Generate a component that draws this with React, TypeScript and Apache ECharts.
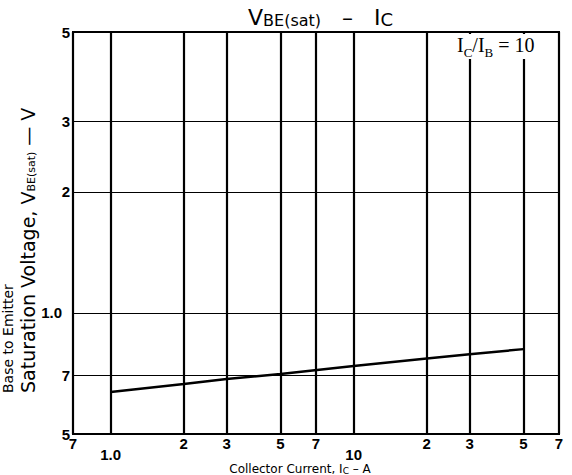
import React, { useEffect, useRef } from "react";
import * as echarts from "echarts";

// Collector current Ic (A) and base-emitter saturation voltage VBE(sat) (V)
const currentA = [1, 2, 3, 5, 10, 20, 30, 50];
const vbeSat = [0.636, 0.666, 0.685, 0.705, 0.738, 0.771, 0.79, 0.813];

const xTicks = [0.7, 1, 2, 3, 5, 7, 10, 20, 30, 50, 70];
const xTickLabels = ["7", "1.0", "2", "3", "5", "7", "10", "2", "3", "5", "7"];
const xLowLabels = ["1.0", "10"];

const yTicks = [0.5, 0.7, 1, 2, 3, 5];
const yTickLabels = ["5", "7", "1.0", "2", "3", "5"];

function findLabel(v: number, ticks: number[], labels: string[]) {
  for (let i = 0; i < ticks.length; i++) {
    if (Math.abs(Math.log10(v) - Math.log10(ticks[i])) < 1e-4) return labels[i];
  }
  return "";
}

export default function App() {
  const ref = useRef<HTMLDivElement>(null);
  useEffect(() => {
    if (!ref.current) return;
    const chart = echarts.init(ref.current, null, { renderer: "svg" });
    const tickFont = {
      color: "#000",
      fontFamily: "Liberation Sans",
      fontWeight: "bold" as const,
      fontSize: 15,
    };
    chart.setOption({
      animation: false,
      backgroundColor: "#fff",
      grid: {
        left: 73,
        right: 13,
        top: 32,
        bottom: 41,
        show: true,
        borderColor: "#000",
        borderWidth: 2,
        backgroundColor: "transparent",
      },
      xAxis: {
        type: "log",
        logBase: 10,
        min: 0.7,
        max: 70,
        axisLine: { show: true, lineStyle: { color: "#000", width: 2 } },
        axisTick: { show: false, customValues: xTicks },
        axisLabel: {
          customValues: xTicks,
          margin: 2,
          ...tickFont,
          formatter: (v: number) => {
            const s = findLabel(v, xTicks, xTickLabels);
            return xLowLabels.includes(s) ? `{lo|${s}}` : s;
          },
          rich: {
            lo: { ...tickFont, padding: [11, 0, 0, 0] },
          },
        },
        splitLine: { show: true, lineStyle: { color: "#000", width: 2.2 } },
        minorTick: { show: false },
        minorSplitLine: { show: false },
      },
      yAxis: {
        type: "log",
        logBase: 10,
        min: 0.5,
        max: 5,
        axisLine: { show: true, lineStyle: { color: "#000", width: 2 } },
        axisTick: { show: false, customValues: yTicks },
        axisLabel: {
          customValues: yTicks,
          margin: 3,
          ...tickFont,
          formatter: (v: number) => {
            const s = findLabel(v, yTicks, yTickLabels);
            return s === "1.0" ? `{w|${s}}` : s;
          },
          rich: {
            w: { ...tickFont, padding: [0, 8, 0, 0] },
          },
        },
        splitLine: { show: true, lineStyle: { color: "#000", width: 1.2 } },
        minorTick: { show: false },
        minorSplitLine: { show: false },
      },
      series: [
        {
          type: "line",
          data: currentA.map((c, i) => [c, vbeSat[i]]),
          showSymbol: false,
          symbol: "none",
          lineStyle: { color: "#000", width: 2.5 },
          z: 5,
        },
      ],
      graphic: [
        {
          type: "text",
          x: 248,
          y: 2,
          z: 10,
          style: {
            text: "{v|V}{s|BE(sat)}{v|   –   I}{c|C}",
            fill: "#000",
            rich: {
              v: { fontFamily: "DejaVu Sans", fontSize: 22, fill: "#000", verticalAlign: "bottom", lineHeight: 26 },
              s: { fontFamily: "DejaVu Sans", fontSize: 16, fill: "#000", verticalAlign: "bottom", lineHeight: 22 },
              c: { fontFamily: "DejaVu Sans", fontSize: 18, fill: "#000", verticalAlign: "bottom", lineHeight: 24 },
            },
          },
        },
        {
          type: "rect",
          z: 10,
          shape: { x: 452, y: 34, width: 104, height: 25 },
          style: { fill: "#fff" },
        },
        {
          type: "text",
          x: 457,
          y: 35,
          z: 11,
          style: {
            text: "{m|I}{s|C}{m|/I}{s|B}{m| = 10}",
            fill: "#000",
            rich: {
              m: { fontFamily: "Liberation Serif", fontSize: 20, fill: "#000", verticalAlign: "top", lineHeight: 21 },
              s: { fontFamily: "Liberation Serif", fontSize: 13, fill: "#000", verticalAlign: "bottom", lineHeight: 24 },
            },
          },
        },
        {
          type: "text",
          x: 0,
          y: 393,
          rotation: Math.PI / 2,
          z: 10,
          style: {
            text: "{a|Base to Emitter}\n{b|Saturation Voltage, V}{s|BE(sat)}{b| — V}",
            fill: "#000",
            textAlign: "left",
            textVerticalAlign: "top",
            rich: {
              a: { fontFamily: "DejaVu Sans", fontSize: 14, fill: "#000", lineHeight: 16 },
              b: { fontFamily: "DejaVu Sans", fontSize: 19, fill: "#000", lineHeight: 21, verticalAlign: "bottom" },
              s: { fontFamily: "DejaVu Sans", fontSize: 11, fill: "#000", lineHeight: 19, verticalAlign: "bottom" },
            },
          },
        },
        {
          type: "text",
          x: 300,
          y: 461,
          z: 10,
          style: {
            text: "{m|Collector Current, I}{s|C}{m| – A}",
            fill: "#000",
            textAlign: "center",
            rich: {
              m: { fontFamily: "DejaVu Sans", fontSize: 12, fill: "#000", lineHeight: 14, verticalAlign: "bottom" },
              s: { fontFamily: "DejaVu Sans", fontSize: 9, fill: "#000", lineHeight: 13, verticalAlign: "bottom" },
            },
          },
        },
      ],
    });
    return () => chart.dispose();
  }, []);
  return <div ref={ref} style={{ width: 572, height: 475, position: "absolute", left: 0, top: 0 }} />;
}
